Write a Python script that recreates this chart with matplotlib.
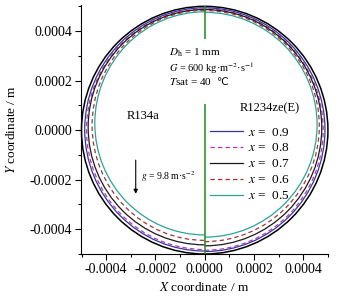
import matplotlib
matplotlib.use("Agg")
import matplotlib.pyplot as plt
from matplotlib.patches import Arc, Circle
from matplotlib.lines import Line2D
from matplotlib.ticker import FormatStrFormatter, AutoMinorLocator

plt.rcParams['font.family'] = ['Liberation Serif', 'DejaVu Sans']
plt.rcParams['mathtext.fontset'] = 'stix'
plt.rcParams['axes.unicode_minus'] = False

# ---- data (m) ----
qualities = [0.9, 0.8, 0.7, 0.6, 0.5]
wall_radius = 5.0e-4
# liquid-vapour interface: top y, bottom y, half width at mid-height
r134a_top = [4.94e-4, 4.90e-4, 4.87e-4, 4.84e-4, 4.78e-4]
r134a_bottom = [-4.88e-4, -4.82e-4, -4.63e-4, -4.45e-4, -4.23e-4]
r134a_side = [4.87e-4, 4.80e-4, 4.73e-4, 4.57e-4, 4.46e-4]
r1234_top = [4.94e-4, 4.90e-4, 4.87e-4, 4.83e-4, 4.76e-4]
r1234_bottom = [-4.90e-4, -4.85e-4, -4.67e-4, -4.50e-4, -4.32e-4]
r1234_side = [4.88e-4, 4.81e-4, 4.75e-4, 4.65e-4, 4.56e-4]
divider_segments = [(5.0e-4, 3.7e-4), (1.05e-4, -5.0e-4)]
tick_values = [-4e-4, -2e-4, 0.0, 2e-4, 4e-4]

colors = ['#3535a5', '#b23cb2', '#1a1a1a', '#a83232', '#2aa39b']
styles = ['-', (0, (3.5, 2.5)), '-', (0, (3.5, 2.5)), '-']

fig = plt.figure(figsize=(3.53, 2.97), dpi=100)
ax = fig.add_axes([0.2295, 0.1448, 0.6995, 0.838])
ax.set_xlim(-5.02e-4, 5.0e-4)
ax.set_ylim(-5.0e-4, 5.05e-4)

# tube wall
ax.add_patch(Circle((0, 0), wall_radius, fill=False, ec='black', lw=1.1, clip_on=False))

for i, q in enumerate(qualities):
    # left half: R134a
    cy = (r134a_top[i] + r134a_bottom[i]) / 2
    ax.add_patch(Arc((0, cy), 2 * r134a_side[i], r134a_top[i] - r134a_bottom[i],
                     theta1=90, theta2=270, ec=colors[i], ls=styles[i], lw=0.9))
    # right half: R1234ze(E)
    cy = (r1234_top[i] + r1234_bottom[i]) / 2
    ax.add_patch(Arc((0, cy), 2 * r1234_side[i], r1234_top[i] - r1234_bottom[i],
                     theta1=-90, theta2=90, ec=colors[i], ls=styles[i], lw=0.9))

for (y1, y2) in divider_segments:
    ax.vlines(0, y2, y1, colors='#1e8a1e', lw=1.1)

# texts
ax.text(-1.46e-4, 3.11e-4, r"$D_\mathrm{h}$ = 1 mm", fontsize=8, va='center', ha='left')
ax.text(-1.46e-4, 2.52e-4, r"$G$ = 600 kg·m$^{-2}$·s$^{-1}$", fontsize=7.5, va='center', ha='left')
t_sat = ax.text(-1.46e-4, 1.95e-4, r"$T$sat = 40", fontsize=8, va='center', ha='left')
ax.annotate("℃", xy=(1, 0.5), xycoords=t_sat, xytext=(3, 0), textcoords='offset points',
            fontsize=7.5, va='center', ha='left', family='DejaVu Sans')
ax.text(-3.16e-4, 0.57e-4, "R134a", fontsize=9, va='center', ha='left')
ax.text(1.42e-4, 0.89e-4, "R1234ze(E)", fontsize=9, va='center', ha='left')

ax.annotate("", xy=(-2.8e-4, -2.57e-4), xytext=(-2.8e-4, -1.21e-4),
            arrowprops=dict(arrowstyle='-|>', color='black', lw=0.8, mutation_scale=6,
                            shrinkA=0, shrinkB=0))
ax.text(-2.6e-4, -1.86e-4, r"$g$ = 9.8 m·s$^{-2}$", fontsize=7, va='center', ha='left')

# legend
handles = [Line2D([], [], color=c, ls=s, lw=0.9) for c, s in zip(colors, styles)]
labels = [r"$x$ =  %.1f" % q for q in qualities]
ax.legend(handles, labels, loc='upper left', bbox_to_anchor=(0.522, 0.513), frameon=False,
          fontsize=9.5, handlelength=2.5, handletextpad=0.4, labelspacing=0.28,
          borderpad=0, borderaxespad=0)

# axes styling
for sp in ['top', 'right']:
    ax.spines[sp].set_visible(False)
for sp in ['left', 'bottom']:
    ax.spines[sp].set_linewidth(0.8)
ax.set_xticks(tick_values)
ax.set_yticks(tick_values)
ax.xaxis.set_major_formatter(FormatStrFormatter('%.4f'))
ax.yaxis.set_major_formatter(FormatStrFormatter('%.4f'))
ax.xaxis.set_minor_locator(AutoMinorLocator(2))
ax.yaxis.set_minor_locator(AutoMinorLocator(2))
ax.tick_params(which='major', direction='out', length=4, width=0.8, labelsize=10, pad=2.5)
ax.tick_params(which='minor', direction='out', length=2.5, width=0.8)

ax.set_xlabel(r"$X$ coordinate / m", fontsize=9.5)
ax.set_ylabel(r"$Y$ coordinate / m", fontsize=9.5)
ax.xaxis.set_label_coords(0.5, -0.108)
ax.yaxis.set_label_coords(-0.255, 0.5)

fig.savefig("out.png", dpi=100)
